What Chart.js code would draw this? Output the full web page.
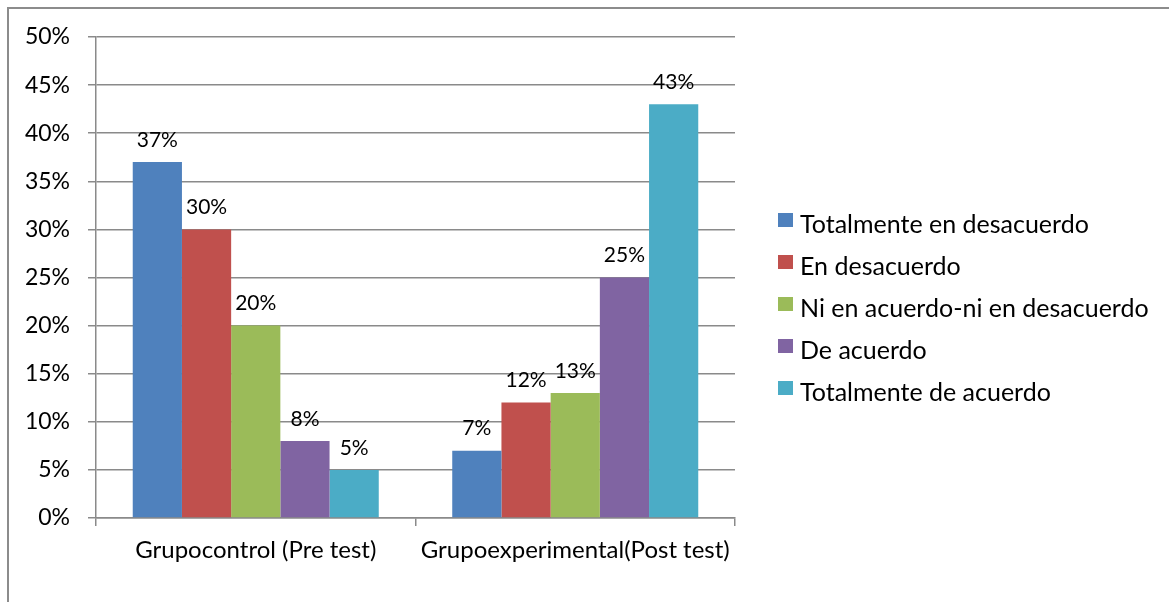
<!DOCTYPE html>
<html>
<head>
<meta charset="utf-8">
<script src="https://cdn.jsdelivr.net/npm/chart.js@4.4.1/dist/chart.umd.min.js"></script>
<style>
  html, body { margin: 0; padding: 0; background: #fff; overflow: hidden; }
  #frame { position: absolute; left: 7px; top: 7px; width: 1200px; height: 700px;
           border-left: 2px solid #8c8c8c; border-top: 2px solid #8c8c8c; }
  #c { position: absolute; left: 0; top: 0; }
</style>
</head>
<body>
<div id="frame"></div>
<canvas id="c" width="1169" height="602"></canvas>
<script>
const categories = ["Grupocontrol (Pre test)", "Grupoexperimental(Post test)"];
const seriesNames = ["Totalmente en desacuerdo", "En desacuerdo", "Ni en acuerdo-ni en desacuerdo", "De acuerdo", "Totalmente de acuerdo"];
const totalmenteDesacuerdo = [37, 7];
const enDesacuerdo = [30, 12];
const niNi = [20, 13];
const deAcuerdo = [8, 25];
const totalmenteAcuerdo = [5, 43];
const yTicks = [0, 5, 10, 15, 20, 25, 30, 35, 40, 45, 50];
const colors = ["#4F81BD", "#C0504D", "#9BBB59", "#8064A2", "#4BACC6"];

const seriesValues = [totalmenteDesacuerdo, enDesacuerdo, niNi, deAcuerdo, totalmenteAcuerdo];
const FONT = "Lato";
const GRID = "#8a8a8a";

const dataLabels = {
  id: "dataLabels",
  afterDatasetsDraw(chart) {
    const ctx = chart.ctx;
    ctx.save();
    ctx.font = "21px " + FONT;
    ctx.fillStyle = "#000";
    ctx.textAlign = "center";
    ctx.textBaseline = "middle";
    chart.data.datasets.forEach((ds, i) => {
      const meta = chart.getDatasetMeta(i);
      meta.data.forEach((el, j) => {
        ctx.fillText(ds.data[j] + "%", el.x, el.y - 22);
      });
    });
    ctx.restore();
  }
};

const sideLegend = {
  id: "sideLegend",
  afterDraw(chart) {
    const ctx = chart.ctx;
    ctx.save();
    ctx.font = "25px " + FONT;
    ctx.textAlign = "left";
    ctx.textBaseline = "middle";
    const x0 = 778, y0 = 225, step = 42;
    chart.data.datasets.forEach((ds, i) => {
      const y = y0 + i * step;
      ctx.fillStyle = ds.backgroundColor;
      ctx.fillRect(x0, y - 12, 15, 14);
      ctx.fillStyle = "#000";
      ctx.fillText(ds.label, x0 + 22, y);
    });
    ctx.restore();
  }
};

new Chart(document.getElementById("c"), {
  type: "bar",
  data: {
    labels: categories,
    datasets: seriesNames.map((name, i) => ({
      label: name,
      data: seriesValues[i],
      backgroundColor: colors[i],
      borderWidth: 0,
      categoryPercentage: 0.77,
      barPercentage: 1.0
    }))
  },
  options: {
    responsive: false,
    animation: false,
    events: [],
    layout: { padding: { left: 0, top: 37, right: 434, bottom: 0 } },
    plugins: {
      legend: { display: false },
      tooltip: { enabled: false },
      title: { display: false }
    },
    scales: {
      x: {
        grid: { display: true, drawOnChartArea: false, drawTicks: true, tickLength: 8, color: GRID, lineWidth: 1.5, offset: true },
        border: { display: true, color: GRID, width: 1.5 },
        ticks: { color: "#000", font: { family: FONT, size: 24 }, padding: 10, maxRotation: 0, autoSkip: false },
        afterFit(s) { s.height = 84; }
      },
      y: {
        min: 0, max: 50,
        afterBuildTicks(s) { s.ticks = yTicks.map(v => ({ value: v })); },
        grid: { color: GRID, lineWidth: 1.5, tickLength: 8, drawTicks: true },
        border: { display: true, color: GRID, width: 1.5 },
        ticks: { color: "#000", font: { family: FONT, size: 23 }, padding: 18, callback: v => v + "%" },
        afterFit(s) { s.width = 96; }
      }
    }
  },
  plugins: [dataLabels, sideLegend]
});
</script>
</body>
</html>
